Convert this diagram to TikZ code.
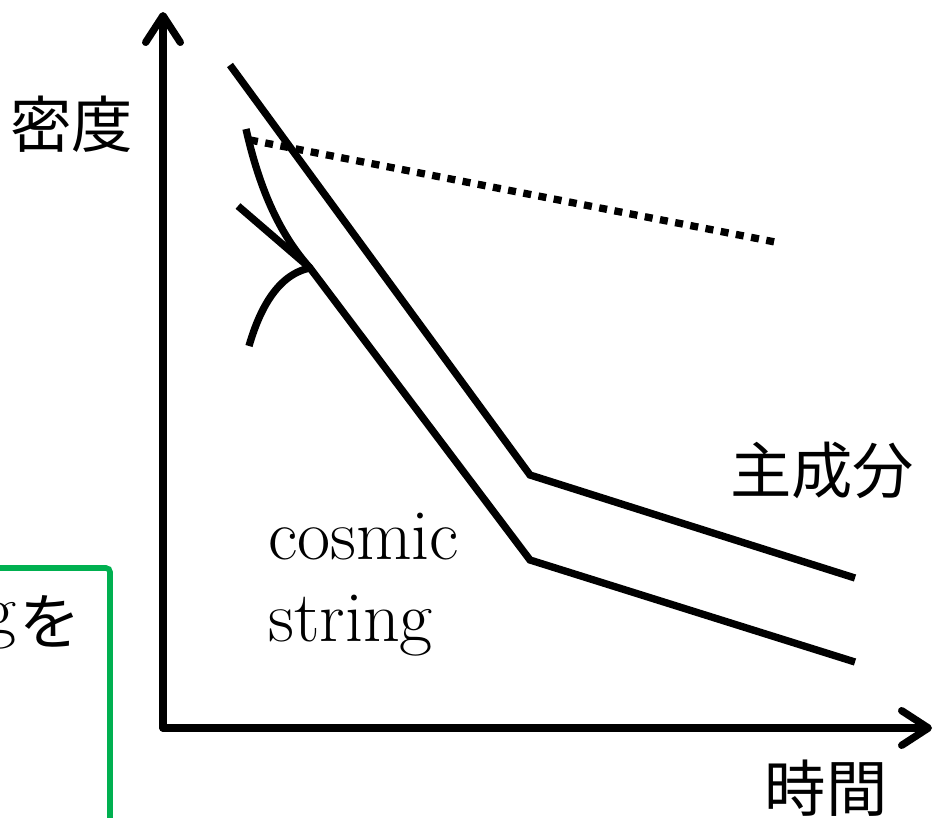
\documentclass[tikz,border=0pt]{standalone}
\usepackage{fontspec}
\newfontfamily\cjk{Noto Sans CJK JP}
\usetikzlibrary{arrows.meta}
\definecolor{boxgreen}{RGB}{0,176,80}
\tikzset{
  curve/.style={line width=5.5pt},
  axis/.style={line width=5.5pt, line cap=round,
    arrows={-{Straight Barb[length=20pt,width=26pt,round]}}},
  dotline/.style={line width=5.5pt, dash pattern=on 6pt off 5.6pt},
  greenline/.style={line width=4.2pt, draw=boxgreen, rounded corners=3pt},
  jlabel/.style={font=\cjk\fontsize{46}{50}\selectfont, inner sep=0pt},
  elabel/.style={font=\fontsize{54}{60}\selectfont, inner sep=0pt}
}
\begin{document}
\begin{tikzpicture}[x=0.75pt, y=-0.75pt]
\useasboundingbox (0,0) rectangle (936,818);
\clip (0,0) rectangle (936,818);
% axes
\coordinate (origin) at (163,728);
\coordinate (ytop) at (163,12);
\coordinate (xend) at (932,728);
\draw[axis] (origin) -- (ytop);
\draw[axis] (origin) -- (xend);
% upper line
\coordinate (u1) at (230,65);
\coordinate (u2) at (530,475);
\coordinate (u3) at (855,578);
\draw[curve] (u1) -- (u2) -- (u3);
% lower line
\coordinate (l1) at (238,206);
\coordinate (lj) at (310,268);
\coordinate (l2) at (530,560);
\coordinate (l3) at (855,662);
\draw[curve] (l1) -- (lj) -- (l2) -- (l3);
% dotted line
\coordinate (d1) at (250,140);
\coordinate (d2) at (775,242);
\draw[dotline] (d1) -- (d2);
% curves meeting the lower line
\coordinate (c1) at (246,129);
\coordinate (c3) at (249,346);
\draw[curve] (c1) .. controls (262,200) and (285,240) .. (lj);
\draw[curve] (c3) .. controls (258,315) and (275,275) .. (lj);
% labels
\node[jlabel] (dens) at (72,124) {密度};
\node[jlabel] (main) at (822,470) {主成分};
\node[jlabel] (time) at (826,788) {時間};
\node[elabel, anchor=base west] (cosmic) at (268,559) {cosmic};
\node[elabel, anchor=base west] (string) at (268,641) {string};
% partial green box at left
\draw[greenline] (-10,568) -- (110,568) -- (110,840);
\node[elabel, anchor=base east] (gpart) at (17,634) {g};
\node[jlabel] (wo) at (50,621) {を};
\end{tikzpicture}
\end{document}
